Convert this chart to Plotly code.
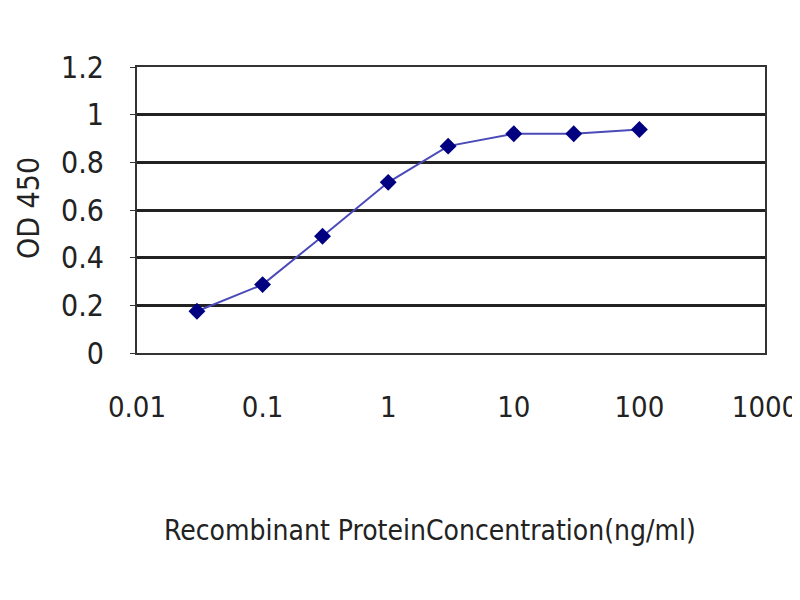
import plotly.graph_objects as go

concentration = [0.03, 0.1, 0.3, 1, 3, 10, 30, 100]
od450 = [0.175, 0.287, 0.49, 0.716, 0.868, 0.92, 0.92, 0.938]
x_ticks = [0.01, 0.1, 1, 10, 100, 1000]
x_ticklabels = ["0.01", "0.1", "1", "10", "100", "1000"]
y_ticks = [0, 0.2, 0.4, 0.6, 0.8, 1, 1.2]
y_ticklabels = ["0", "0.2", "0.4", "0.6", "0.8", "1", "1.2"]

fig = go.Figure()
fig.add_trace(go.Scatter(
    x=concentration, y=od450, mode="lines+markers",
    line=dict(color="#4a4ab8", width=2),
    marker=dict(symbol="diamond", size=13, color="#000080"),
    showlegend=False, cliponaxis=False,
))

# page body has an 8px offset, so figure coordinates = screen coordinates - 8
OFF = 8
font_family = "DejaVu Sans Condensed, Liberation Sans, Arial"
L, R, T, B = 137 - OFF, 800 - (765 - OFF), 67 - OFF, 600 - (353 - OFF)
W = 800 - L - R
H = 600 - T - B
fig.update_layout(
    width=800, height=600,
    margin=dict(l=L, r=R, t=T, b=B, autoexpand=False),
    paper_bgcolor="white", plot_bgcolor="white",
    font=dict(family=font_family, color="#222"),
    xaxis=dict(
        type="log", range=[-2, 3],
        tickvals=x_ticks, ticktext=x_ticklabels,
        tickfont=dict(size=29), ticklabelstandoff=27,
        showgrid=False, showline=True, linecolor="#333", linewidth=2, mirror=True,
        ticks="", zeroline=False, automargin=False,
    ),
    yaxis=dict(
        range=[0, 1.2],
        tickvals=y_ticks, ticktext=y_ticklabels,
        tickfont=dict(size=30), ticklabelstandoff=20,
        showgrid=True, gridcolor="#222", gridwidth=2.5,
        showline=True, linecolor="#333", linewidth=2, mirror=True,
        ticks="outside", ticklen=5, tickcolor="#333", zeroline=False, automargin=False,
    ),
    annotations=[
        dict(text="Recombinant ProteinConcentration(ng/ml)", xref="paper", yref="paper",
             x=(430 - OFF - L) / W, y=-((530 - OFF) - (600 - B)) / H,
             xanchor="center", yanchor="middle", showarrow=False,
             font=dict(size=28, family=font_family, color="#222")),
        dict(text="OD 450", xref="paper", yref="paper",
             x=(28 - OFF - L) / W, y=((600 - B) - (208 - OFF)) / H,
             xanchor="center", yanchor="middle", showarrow=False, textangle=-90,
             font=dict(size=30, family=font_family, color="#222")),
    ],
)

fig.write_html("out.html")
